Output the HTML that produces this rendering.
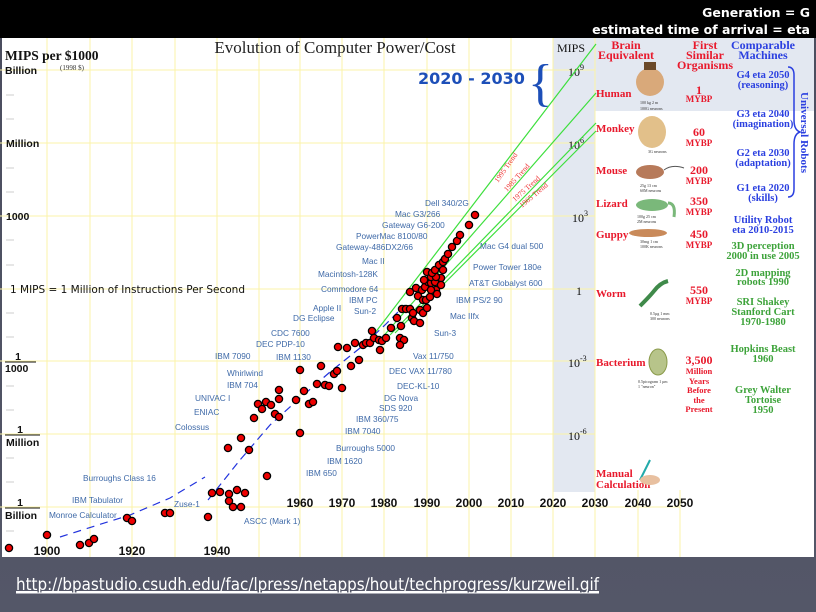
<!DOCTYPE html>
<html><head><meta charset="utf-8"><style>
body{margin:0;width:816px;height:612px;overflow:hidden;background:#4d5061;font-family:"Liberation Sans",sans-serif}
</style></head><body>
<svg width="816" height="612" xmlns="http://www.w3.org/2000/svg" style="position:absolute;left:0;top:0">
<defs><linearGradient id="bg" x1="0" y1="0" x2="0" y2="1"><stop offset="0" stop-color="#4a4d5e"/><stop offset="1" stop-color="#545768"/></linearGradient></defs>
<rect x="0" y="0" width="816" height="612" fill="url(#bg)"/>
<rect x="0" y="0" width="816" height="38" fill="#000"/>
<text x="810" y="17" text-anchor="end" fill="#fff" font-size="12.5" font-weight="bold" font-family="DejaVu Sans,sans-serif">Generation = G</text>
<text x="810" y="34" text-anchor="end" fill="#fff" font-size="12.5" font-weight="bold" font-family="DejaVu Sans,sans-serif">estimated time of arrival = eta</text>
<rect x="2" y="38" width="812" height="519" fill="#fff"/>
<rect x="553" y="38" width="42" height="454" fill="#e3e8f1"/>
<rect x="595" y="38" width="219" height="73" fill="#e3e8f1"/>
<g stroke="#fbf3a8" stroke-width="1">
<line x1="47" y1="38" x2="47" y2="557"/><line x1="90" y1="38" x2="90" y2="557"/><line x1="132" y1="38" x2="132" y2="557"/><line x1="175" y1="38" x2="175" y2="557"/><line x1="217" y1="38" x2="217" y2="557"/><line x1="259" y1="38" x2="259" y2="557"/><line x1="300" y1="38" x2="300" y2="557"/><line x1="342" y1="38" x2="342" y2="557"/><line x1="384" y1="38" x2="384" y2="557"/><line x1="427" y1="38" x2="427" y2="557"/><line x1="469" y1="38" x2="469" y2="557"/><line x1="511" y1="38" x2="511" y2="557"/><line x1="553" y1="38" x2="553" y2="557"/><line x1="595" y1="38" x2="595" y2="557"/><line x1="638" y1="490" x2="638" y2="557"/><line x1="680" y1="490" x2="680" y2="557"/>
<line x1="0" y1="70" x2="595" y2="70"/><line x1="0" y1="143" x2="595" y2="143"/><line x1="0" y1="216" x2="595" y2="216"/><line x1="0" y1="289" x2="595" y2="289"/><line x1="0" y1="361" x2="595" y2="361"/><line x1="0" y1="434" x2="595" y2="434"/><line x1="0" y1="507" x2="680" y2="507"/>
</g>
<g stroke="#ccc" stroke-width="1">
<line x1="6" y1="95" x2="14" y2="95"/><line x1="6" y1="119" x2="14" y2="119"/><line x1="6" y1="168" x2="14" y2="168"/><line x1="6" y1="192" x2="14" y2="192"/><line x1="6" y1="240" x2="14" y2="240"/><line x1="6" y1="265" x2="14" y2="265"/><line x1="6" y1="313" x2="14" y2="313"/><line x1="6" y1="337" x2="14" y2="337"/><line x1="6" y1="386" x2="14" y2="386"/><line x1="6" y1="410" x2="14" y2="410"/><line x1="6" y1="458" x2="14" y2="458"/><line x1="6" y1="482" x2="14" y2="482"/><line x1="6" y1="531" x2="14" y2="531"/>
</g>
<text x="335" y="53" text-anchor="middle" font-size="17" font-family="Liberation Serif,serif" fill="#222">Evolution of Computer Power/Cost</text>
<text x="5" y="60" font-size="13.5" font-weight="bold" font-family="Liberation Serif,serif" fill="#111">MIPS per $1000</text>
<text x="60" y="70" font-size="7" font-family="Liberation Serif,serif" fill="#333">(1998 $)</text>
<g font-size="10.5" font-weight="bold" fill="#111">
<text x="5" y="74">Billion</text><text x="6" y="147">Million</text><text x="6" y="220">1000</text>
<text x="18" y="360" text-anchor="middle">1</text><line x1="5" y1="362" x2="36" y2="362" stroke="#111"/><text x="5" y="372">1000</text>
<text x="20" y="433" text-anchor="middle">1</text><line x1="5" y1="435" x2="40" y2="435" stroke="#111"/><text x="6" y="446">Million</text>
<text x="20" y="506" text-anchor="middle">1</text><line x1="5" y1="508" x2="40" y2="508" stroke="#111"/><text x="5" y="519">Billion</text>
</g>
<text x="10" y="293" font-size="10.5" font-family="DejaVu Sans,sans-serif" fill="#111">1  MIPS = 1 Million of Instructions Per Second</text>
<g font-size="12" font-weight="bold" fill="#111" text-anchor="middle">
<text x="47" y="555">1900</text><text x="132" y="555">1920</text><text x="217" y="555">1940</text>
<text x="300" y="507">1960</text><text x="342" y="507">1970</text><text x="384" y="507">1980</text><text x="427" y="507">1990</text><text x="469" y="507">2000</text><text x="511" y="507">2010</text><text x="553" y="507">2020</text><text x="595" y="507">2030</text><text x="638" y="507">2040</text><text x="680" y="507">2050</text>
</g>
<g font-family="Liberation Serif,serif" fill="#111" font-size="12">
<text x="557" y="52">MIPS</text>
<text x="568" y="76">10<tspan font-size="8" dy="-6">9</tspan></text>
<text x="568" y="149">10<tspan font-size="8" dy="-6">6</tspan></text>
<text x="572" y="222">10<tspan font-size="8" dy="-6">3</tspan></text>
<text x="576" y="295">1</text>
<text x="568" y="367">10<tspan font-size="8" dy="-6">-3</tspan></text>
<text x="568" y="440">10<tspan font-size="8" dy="-6">-6</tspan></text>
</g>
<text x="418" y="84" font-size="16" font-weight="bold" fill="#1d4fb8" font-family="DejaVu Sans,sans-serif">2020 - 2030</text>
<text x="528" y="100" font-size="52" fill="#1d4fb8" font-family="Liberation Serif,serif">{</text>
<g stroke="#3ddf3d" stroke-width="1.2">
<line x1="365" y1="346" x2="596" y2="44"/><line x1="380" y1="340" x2="596" y2="93"/><line x1="390" y1="335" x2="596" y2="123"/><line x1="395" y1="333" x2="596" y2="131"/>
</g>
<g font-size="7.5" fill="#e33" font-family="Liberation Serif,serif">
<text transform="translate(498,183) rotate(-55)">1995 Trend</text>
<text transform="translate(507,192) rotate(-48)">1985 Trend</text>
<text transform="translate(515,202) rotate(-42)">1975 Trend</text>
<text transform="translate(522,208) rotate(-40)">1965 Trend</text>
</g>
<polyline points="60,537 98,525 130,515 170,498 205,477" fill="none" stroke="#2233dd" stroke-width="1.2" stroke-dasharray="8,6"/>
<polyline points="208,500 240,460 270,425 300,398 330,372 360,348 385,325 405,305" fill="none" stroke="#2233dd" stroke-width="1.2" stroke-dasharray="8,5"/>
<g font-size="8.3" fill="#3f6aa8">
<text x="425" y="206">Dell 340/2G</text><text x="395" y="217">Mac G3/266</text><text x="382" y="228">Gateway G6-200</text><text x="356" y="239">PowerMac 8100/80</text><text x="336" y="250">Gateway-486DX2/66</text><text x="362" y="264">Mac II</text><text x="318" y="277">Macintosh-128K</text><text x="321" y="292">Commodore 64</text><text x="349" y="303">IBM PC</text><text x="313" y="311">Apple II</text><text x="354" y="314">Sun-2</text><text x="293" y="321">DG Eclipse</text><text x="271" y="336">CDC 7600</text><text x="256" y="347">DEC PDP-10</text><text x="215" y="359">IBM 7090</text><text x="276" y="360">IBM 1130</text><text x="227" y="376">Whirlwind</text><text x="227" y="388">IBM 704</text><text x="195" y="401">UNIVAC I</text><text x="194" y="415">ENIAC</text><text x="175" y="430">Colossus</text><text x="83" y="481">Burroughs Class 16</text><text x="72" y="503">IBM Tabulator</text><text x="49" y="518">Monroe Calculator</text><text x="174" y="507">Zuse-1</text><text x="244" y="524">ASCC (Mark 1)</text><text x="306" y="476">IBM 650</text><text x="327" y="464">IBM 1620</text><text x="336" y="451">Burroughs 5000</text><text x="345" y="434">IBM 7040</text><text x="356" y="422">IBM 360/75</text><text x="379" y="411">SDS 920</text><text x="384" y="401">DG Nova</text><text x="397" y="389">DEC-KL-10</text><text x="389" y="374">DEC VAX 11/780</text><text x="413" y="359">Vax 11/750</text><text x="434" y="336">Sun-3</text><text x="450" y="319">Mac IIfx</text><text x="456" y="303">IBM PS/2 90</text><text x="469" y="286">AT&amp;T Globalyst 600</text><text x="473" y="270">Power Tower 180e</text><text x="480" y="249">Mac G4 dual 500</text>
</g>
<g fill="#e00" stroke="#000" stroke-width="1.3">
<circle cx="9" cy="548" r="3.6"/><circle cx="47" cy="535" r="3.6"/><circle cx="80" cy="545" r="3.6"/><circle cx="89" cy="543" r="3.6"/><circle cx="94" cy="539" r="3.6"/><circle cx="127" cy="518" r="3.6"/><circle cx="132" cy="521" r="3.6"/><circle cx="165" cy="513" r="3.6"/><circle cx="170" cy="513" r="3.6"/><circle cx="208" cy="517" r="3.6"/><circle cx="212" cy="493" r="3.6"/><circle cx="220" cy="492" r="3.6"/><circle cx="229" cy="494" r="3.6"/><circle cx="229" cy="501" r="3.6"/><circle cx="233" cy="507" r="3.6"/><circle cx="237" cy="490" r="3.6"/><circle cx="241" cy="507" r="3.6"/><circle cx="245" cy="493" r="3.6"/><circle cx="228" cy="448" r="3.6"/><circle cx="241" cy="438" r="3.6"/><circle cx="249" cy="450" r="3.6"/><circle cx="254" cy="418" r="3.6"/><circle cx="258" cy="404" r="3.6"/><circle cx="262" cy="409" r="3.6"/><circle cx="266" cy="402" r="3.6"/><circle cx="271" cy="405" r="3.6"/><circle cx="275" cy="414" r="3.6"/><circle cx="279" cy="399" r="3.6"/><circle cx="279" cy="417" r="3.6"/><circle cx="267" cy="476" r="3.6"/><circle cx="300" cy="433" r="3.6"/><circle cx="279" cy="390" r="3.6"/><circle cx="296" cy="400" r="3.6"/><circle cx="300" cy="370" r="3.6"/><circle cx="304" cy="391" r="3.6"/><circle cx="309" cy="404" r="3.6"/><circle cx="313" cy="402" r="3.6"/><circle cx="317" cy="384" r="3.6"/><circle cx="321" cy="366" r="3.6"/><circle cx="325" cy="385" r="3.6"/><circle cx="329" cy="386" r="3.6"/><circle cx="334" cy="374" r="3.6"/><circle cx="337" cy="371" r="3.6"/><circle cx="342" cy="388" r="3.6"/><circle cx="338" cy="347" r="3.6"/><circle cx="347" cy="348" r="3.6"/><circle cx="355" cy="343" r="3.6"/><circle cx="351" cy="366" r="3.6"/><circle cx="359" cy="360" r="3.6"/><circle cx="363" cy="345" r="3.6"/><circle cx="366" cy="343" r="3.6"/><circle cx="370" cy="343" r="3.6"/><circle cx="374" cy="338" r="3.6"/><circle cx="372" cy="331" r="3.6"/><circle cx="379" cy="340" r="3.6"/><circle cx="382" cy="341" r="3.6"/><circle cx="380" cy="350" r="3.6"/><circle cx="386" cy="338" r="3.6"/><circle cx="391" cy="328" r="3.6"/><circle cx="397" cy="318" r="3.6"/><circle cx="401" cy="326" r="3.6"/><circle cx="400" cy="338" r="3.6"/><circle cx="404" cy="340" r="3.6"/><circle cx="400" cy="345" r="3.6"/><circle cx="402" cy="309" r="3.6"/><circle cx="406" cy="309" r="3.6"/><circle cx="410" cy="309" r="3.6"/><circle cx="412" cy="318" r="3.6"/><circle cx="414" cy="321" r="3.6"/><circle cx="420" cy="323" r="3.6"/><circle cx="413" cy="313" r="3.6"/><circle cx="420" cy="310" r="3.6"/><circle cx="423" cy="313" r="3.6"/><circle cx="427" cy="308" r="3.6"/><circle cx="410" cy="292" r="3.6"/><circle cx="416" cy="288" r="3.6"/><circle cx="418" cy="296" r="3.6"/><circle cx="422" cy="290" r="3.6"/><circle cx="423" cy="300" r="3.6"/><circle cx="426" cy="300" r="3.6"/><circle cx="425" cy="287" r="3.6"/><circle cx="428" cy="282" r="3.6"/><circle cx="431" cy="283" r="3.6"/><circle cx="435" cy="282" r="3.6"/><circle cx="436" cy="290" r="3.6"/><circle cx="437" cy="294" r="3.6"/><circle cx="430" cy="297" r="3.6"/><circle cx="431" cy="290" r="3.6"/><circle cx="441" cy="278" r="3.6"/><circle cx="441" cy="285" r="3.6"/><circle cx="427" cy="272" r="3.6"/><circle cx="424" cy="280" r="3.6"/><circle cx="431" cy="277" r="3.6"/><circle cx="436" cy="277" r="3.6"/><circle cx="432" cy="273" r="3.6"/><circle cx="435" cy="270" r="3.6"/><circle cx="439" cy="265" r="3.6"/><circle cx="443" cy="270" r="3.6"/><circle cx="443" cy="262" r="3.6"/><circle cx="445" cy="259" r="3.6"/><circle cx="448" cy="254" r="3.6"/><circle cx="452" cy="247" r="3.6"/><circle cx="457" cy="241" r="3.6"/><circle cx="460" cy="235" r="3.6"/><circle cx="469" cy="225" r="3.6"/><circle cx="475" cy="215" r="3.6"/>
</g>
<g font-family="Liberation Serif,serif" font-weight="bold" fill="#e8192c" font-size="11">
<text x="626" y="49" text-anchor="middle" font-size="12">Brain</text><text x="626" y="59" text-anchor="middle" font-size="12">Equivalent</text>
<text x="705" y="49" text-anchor="middle" font-size="12">First</text><text x="705" y="59" text-anchor="middle" font-size="12">Similar</text><text x="705" y="69" text-anchor="middle" font-size="12">Organisms</text>
<text x="596" y="97">Human</text><text x="596" y="132">Monkey</text><text x="596" y="174">Mouse</text><text x="596" y="207">Lizard</text><text x="596" y="238">Guppy</text><text x="596" y="297">Worm</text><text x="596" y="366">Bacterium</text><text x="596" y="477">Manual</text><text x="596" y="488">Calculation</text>
<g text-anchor="middle"><text x="699" y="94" font-size="12">1</text><text x="699" y="102" font-size="9">MYBP</text>
<text x="699" y="136" font-size="12">60</text><text x="699" y="146" font-size="9">MYBP</text>
<text x="699" y="174" font-size="12">200</text><text x="699" y="184" font-size="9">MYBP</text>
<text x="699" y="205" font-size="12">350</text><text x="699" y="215" font-size="9">MYBP</text>
<text x="699" y="238" font-size="12">450</text><text x="699" y="248" font-size="9">MYBP</text>
<text x="699" y="294" font-size="12">550</text><text x="699" y="304" font-size="9">MYBP</text>
<text x="699" y="364" font-size="12">3,500</text><text x="699" y="374" font-size="8.5">Million</text><text x="699" y="384" font-size="8.5">Years</text><text x="699" y="393" font-size="8.5">Before</text><text x="699" y="403" font-size="8.5">the</text><text x="699" y="412" font-size="8.5">Present</text></g>
</g>
<g font-family="Liberation Serif,serif" font-weight="bold" fill="#2a3fe0" font-size="10.5" text-anchor="middle">
<text x="763" y="49" font-size="12">Comparable</text><text x="763" y="59" font-size="12">Machines</text>
<text x="763" y="78">G4 eta 2050</text><text x="763" y="88">(reasoning)</text>
<text x="763" y="117">G3 eta 2040</text><text x="763" y="127">(imagination)</text>
<text x="763" y="156">G2 eta 2030</text><text x="763" y="166">(adaptation)</text>
<text x="763" y="191">G1 eta 2020</text><text x="763" y="201">(skills)</text>
<text x="763" y="223">Utility Robot</text><text x="763" y="233">eta 2010-2015</text>
</g>
<text transform="translate(801,92) rotate(90)" font-family="Liberation Serif,serif" font-weight="bold" fill="#2a3fe0" font-size="11">Universal Robots</text>
<path d="M788,67 q6,0 6,8 v45 q0,10 6,12 q-6,2 -6,12 v45 q0,8 -6,8" fill="none" stroke="#2a3fe0" stroke-width="1.5"/>
<g font-family="Liberation Serif,serif" font-weight="bold" fill="#3da33a" font-size="10.5" text-anchor="middle">
<text x="763" y="249">3D perception</text><text x="763" y="259">2000 in use 2005</text>
<text x="763" y="276">2D mapping</text><text x="763" y="285">robots 1990</text>
<text x="763" y="305">SRI Shakey</text><text x="763" y="315">Stanford Cart</text><text x="763" y="325">1970-1980</text>
<text x="763" y="352">Hopkins Beast</text><text x="763" y="362">1960</text>
<text x="763" y="393">Grey Walter</text><text x="763" y="403">Tortoise</text><text x="763" y="413">1950</text>
</g>
<ellipse cx="650" cy="82" rx="14" ry="14" fill="#d9a97a"/><rect x="644" y="62" width="12" height="8" fill="#6b4a2a"/>
<ellipse cx="652" cy="132" rx="14" ry="16" fill="#e2c08a"/>
<ellipse cx="650" cy="172" rx="14" ry="7" fill="#b77a5a"/><path d="M664,170 q8,-6 20,-2" stroke="#555" fill="none"/>
<ellipse cx="652" cy="205" rx="16" ry="6" fill="#7ab87a"/><path d="M668,203 q8,0 6,14" stroke="#7ab87a" stroke-width="3" fill="none"/>
<ellipse cx="648" cy="233" rx="19" ry="4" fill="#c98a5a"/>
<path d="M640,306 q10,-10 14,-15 q6,-8 14,-10" stroke="#3f8a4a" stroke-width="4" fill="none"/>
<ellipse cx="658" cy="362" rx="9" ry="13" fill="#b7c48a" stroke="#8a9a4a"/>
<path d="M640,480 l10,-20" stroke="#2aa" stroke-width="2"/><ellipse cx="650" cy="480" rx="10" ry="5" fill="#e8c0a0"/>
<g font-size="4" fill="#333" font-family="Liberation Serif,serif"><text x="640" y="104">100 kg  2 m</text><text x="640" y="110">100G neurons</text><text x="648" y="153">3G neurons</text><text x="640" y="187">25g  13 cm</text><text x="640" y="192">60M neurons</text><text x="637" y="218">100g 25 cm</text><text x="637" y="223">2M neurons</text><text x="640" y="243">30mg 1 cm</text><text x="640" y="248">100K neurons</text><text x="650" y="315">0.5µg 1 mm</text><text x="650" y="320">300 neurons</text><text x="638" y="383">0.5picogram 1 µm</text><text x="638" y="388">1 "neuron"</text></g>
<text x="16" y="590" fill="#fff" font-size="16.5" text-decoration="underline" font-family="DejaVu Sans,sans-serif" textLength="583" lengthAdjust="spacingAndGlyphs">http://bpastudio.csudh.edu/fac/lpress/netapps/hout/techprogress/kurzweil.gif</text>
<line x1="16" y1="593" x2="599" y2="593" stroke="#fff" stroke-width="1"/>
</svg>
</body></html>
